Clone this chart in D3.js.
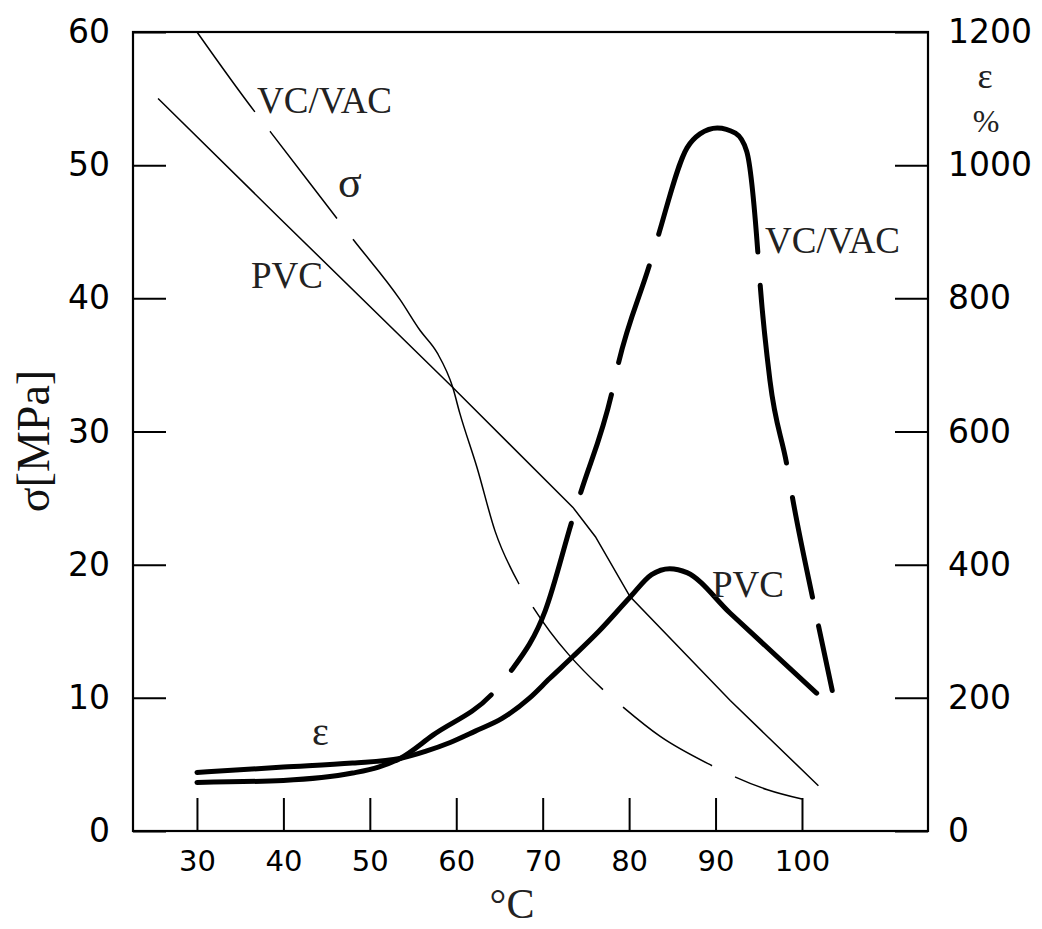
<!DOCTYPE html>
<html lang="en">
<head>
<meta charset="UTF-8">
<title>sigma / epsilon vs temperature</title>
<script src="https://cdn.jsdelivr.net/npm/d3@7"></script>
<style>
  body { margin: 0; background: #fff; }
  svg { display: block; }
</style>
</head>
<body>
<div id="chart"></div>
<script>
// tick values
var tempTicks = [30, 40, 50, 60, 70, 80, 90, 100];
var sigmaTicks = [0, 10, 20, 30, 40, 50, 60];
var epsTicks = [0, 200, 400, 600, 800, 1000, 1200];

// sigma [MPa] against temperature [°C]
var pvcSigma = [[25.5,55.0],[39.6,46.0],[59.6,33.3],[73.5,24.3],[76.1,22.1],[80.1,17.6],[91.7,9.8],[101.9,3.4]];
var vcvacSigma = [[30.0,60.0],[36.7,54.0],[38.5,52.5],[46.2,46.0],[48.1,44.4],[53.5,39.9],[55.8,37.6],[57.8,35.9],
                  [59.6,33.3],[60.4,31.4],[62.4,27.3],[64.5,22.5],[67.3,18.5],[68.9,16.8],[77.0,10.6],[79.3,9.3],
                  [83.6,7.1],[89.6,4.9],[92.3,4.05],[96.0,3.1],[100.0,2.4]];
// breaks in the dashed line, in °C
var vcvacSigmaGaps = [[36.7,38.45],[46.2,48.05],[67.26,68.88],[76.97,79.29],[89.59,92.25]];

// epsilon [%] against temperature [°C]
var pvcEps = [[30,88],[40,96],[48,102],[53.5,109],[56.5,120],[59.3,133],[62.2,150],[65.3,169],[68.5,200],[70.8,229],
              [73.5,262],[76.5,300],[80.1,351],[82.6,385],[84.7,394],[86.7,388],[91.7,327],[101.7,207]];
var vcvacEps = [[30,73],[40,76],[48,87],[51,96],[53.5,109],[57.3,144],[64.3,208],[66.2,238],[70.3,331],[73.4,466],
                [74.3,504],[78.0,658],[78.7,699],[82.4,852],[83.3,891],[86.7,1026],[88.2,1047],[90.2,1056],[92.3,1048],
                [93.6,1021],[94.9,868],[95.1,831],[96.3,676],[98.3,546],[98.8,508],[101.3,346],[101.9,309],[103.5,211]];
var vcvacEpsGaps = [[64.25,66.21],[73.39,74.31],[78.02,78.71],[82.41,83.34],[94.91,95.14],[98.26,98.84],[101.27,101.85]];

var W = 1042, H = 929;
var mLeft = 133, mTop = 32, mRight = 928, mBottom = 831;

var svg = d3.select("#chart").append("svg")
    .attr("width", W)
    .attr("height", H);

var x = d3.scaleLinear().domain([22.6, 114.58]).range([mLeft, mRight]);
var ySig = d3.scaleLinear().domain([0, 60]).range([mBottom, mTop]);
var yEps = d3.scaleLinear().domain([0, 1200]).range([mBottom, mTop]);

var tickFont = "'DejaVu Sans', sans-serif";
var serif = "'Liberation Serif', 'Times New Roman', serif";

// axes, ticks pointing inward
var gx = svg.append("g")
    .attr("transform", "translate(0," + mBottom + ")")
    .call(d3.axisBottom(x).tickValues(tempTicks).tickSize(-33).tickPadding(19));
var gl = svg.append("g")
    .attr("transform", "translate(" + mLeft + ",0)")
    .call(d3.axisLeft(ySig).tickValues(sigmaTicks).tickSize(-33).tickPadding(23));
var gr = svg.append("g")
    .attr("transform", "translate(" + mRight + ",0)")
    .call(d3.axisRight(yEps).tickValues(epsTicks).tickFormat(d3.format("d")).tickSize(-33).tickPadding(20));

[gx, gl, gr].forEach(function(g){
    g.select(".domain").remove();
    g.selectAll("line").attr("stroke", "#000").attr("stroke-width", 2);
    g.selectAll("text").attr("fill", "#000").style("font-family", tickFont);
});
gx.selectAll("text").style("font-size", "29px");
gl.selectAll("text").style("font-size", "33px");
gr.selectAll("text").style("font-size", "33px");

svg.append("rect")
    .attr("x", mLeft).attr("y", mTop)
    .attr("width", mRight - mLeft).attr("height", mBottom - mTop)
    .attr("fill", "none")
    .attr("stroke", "#000")
    .attr("stroke-width", 2.2);

var lineSig = d3.line().x(d => x(d[0])).y(d => ySig(d[1]));
var lineEps = d3.line().x(d => x(d[0])).y(d => yEps(d[1])).curve(d3.curveMonotoneX);

// turns gap positions (°C) into a dasharray along the drawn path
function dashPath(path, gaps, capW) {
    var node = path.node(), L = node.getTotalLength();
    function lenAt(t) {
        var px = x(t), lo = 0, hi = L;
        for (var i = 0; i < 40; i++) {
            var mid = (lo + hi) / 2;
            if (node.getPointAtLength(mid).x < px) lo = mid; else hi = mid;
        }
        return lo;
    }
    var b = [0];
    gaps.forEach(function(g){
        b.push(lenAt(g[0]) - capW / 2, lenAt(g[1]) + capW / 2);
    });
    b.push(L);
    var arr = [];
    for (var i = 1; i < b.length; i++) arr.push(Math.max(0.1, b[i] - b[i-1]));
    arr.push(L);
    path.attr("stroke-dasharray", arr.join(" "));
}

svg.append("path")
    .datum(pvcSigma)
    .attr("d", lineSig)
    .attr("fill", "none").attr("stroke", "#000").attr("stroke-width", 1.5);

var vs = svg.append("path")
    .datum(vcvacSigma)
    .attr("d", lineSig.curve(d3.curveMonotoneX))
    .attr("fill", "none").attr("stroke", "#000").attr("stroke-width", 1.5);
dashPath(vs, vcvacSigmaGaps, 0);

svg.append("path")
    .datum(pvcEps)
    .attr("d", lineEps)
    .attr("fill", "none").attr("stroke", "#000").attr("stroke-width", 5)
    .attr("stroke-linecap", "round").attr("stroke-linejoin", "round");

var ve = svg.append("path")
    .datum(vcvacEps)
    .attr("d", lineEps)
    .attr("fill", "none").attr("stroke", "#000").attr("stroke-width", 5)
    .attr("stroke-linecap", "round").attr("stroke-linejoin", "round");
dashPath(ve, vcvacEpsGaps, 5);

// labels
function label(txt, px, py, size, anchor) {
    return svg.append("text")
        .attr("x", px).attr("y", py)
        .attr("text-anchor", anchor || "start")
        .style("font-family", serif)
        .style("font-size", size + "px")
        .attr("fill", "#222")
        .text(txt);
}
label("VC/VAC", 257, 113, 37);
label("σ", 338, 197, 44);
label("PVC", 251, 288, 37);
label("VC/VAC", 765, 253, 37);
label("PVC", 712, 597, 37);
label("ε", 312, 745, 40);
label("ε", 985, 88, 36, "middle");
label("%", 986, 132, 32, "middle");
label("°C", 512, 918, 42, "middle");

svg.append("text")
    .attr("transform", "translate(49,441) rotate(-90)")
    .attr("text-anchor", "middle")
    .style("font-family", serif)
    .style("font-size", "46px")
    .attr("fill", "#111")
    .text("σ[MPa]");
</script>
</body>
</html>
